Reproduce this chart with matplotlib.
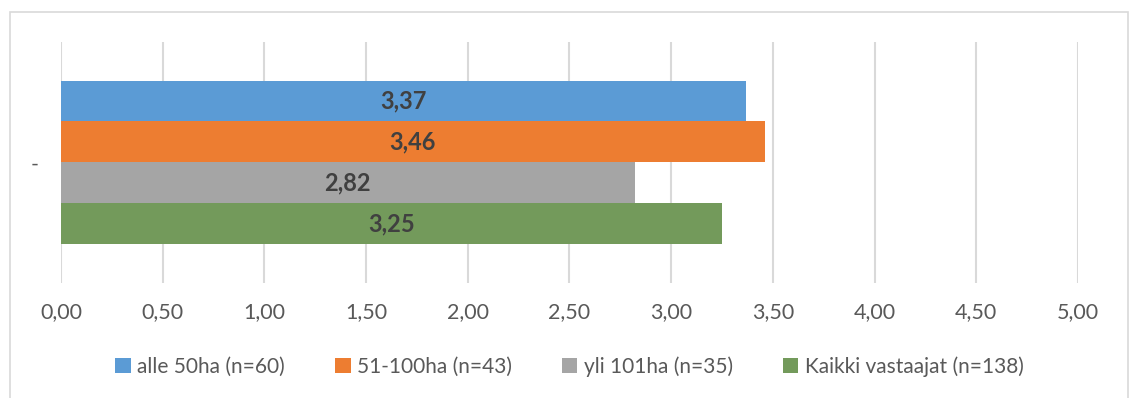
import matplotlib.pyplot as plt
from matplotlib.patches import Rectangle

# mean scores per farm size group
groups = ["alle 50ha (n=60)", "51-100ha (n=43)", "yli 101ha (n=35)", "Kaikki vastaajat (n=138)"]
values = [3.37, 3.46, 2.82, 3.25]
colors = ["#5B9BD5", "#ED7D31", "#A5A5A5", "#739A5B"]
xticks = [0.0, 0.5, 1.0, 1.5, 2.0, 2.5, 3.0, 3.5, 4.0, 4.5, 5.0]
category = "-"

plt.rcParams["font.family"] = ["Lato", "DejaVu Sans"]

fig = plt.figure(figsize=(11.31, 3.98), dpi=100)
ax = fig.add_axes([0.0539, 0.289, 0.8992, 0.6055])

# outer chart frame
fig.patches.append(Rectangle((10 / 1131, -0.05), 1118 / 1131, 1.05 - 12 / 398,
                             transform=fig.transFigure, fill=False,
                             edgecolor="#D9D9D9", linewidth=1.2))

bar_h = 0.2
n = len(values)
for i, (g, v, c) in enumerate(zip(groups, values, colors)):
    y = (i - (n - 1) / 2) * bar_h
    ax.barh(y, v, height=bar_h, color=c, label=g, zorder=2)
    ax.text(v / 2, y, f"{v:.2f}".replace(".", ","), ha="center", va="center",
            fontsize=17, fontweight="bold", color="#404040", zorder=3)

ax.set_xlim(0, 5.0)
ax.set_ylim(0.588, -0.588)
ax.set_xticks(xticks)
ax.set_xticklabels([f"{t:.2f}".replace(".", ",") for t in xticks])
ax.set_yticks([0])
ax.set_yticklabels([category])
ax.tick_params(axis="both", length=0, labelsize=15.5, colors="#595959")
ax.tick_params(axis="x", pad=14)
ax.tick_params(axis="y", pad=16)

ax.grid(axis="x", color="#D9D9D9", linewidth=1.5, zorder=0)
ax.set_axisbelow(True)
for s in ax.spines.values():
    s.set_visible(False)

ax.legend(loc="upper center", bbox_to_anchor=(0.5, -0.225), ncol=4, frameon=False,
          fontsize=15, labelcolor="#595959", handlelength=0.75, handleheight=0.75,
          handletextpad=0.3, columnspacing=2.4)

fig.savefig("out.png", dpi=100)
